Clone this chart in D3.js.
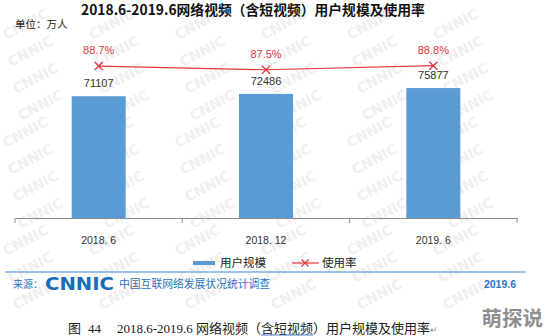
<!DOCTYPE html>
<html><head><meta charset="utf-8">
<script src="https://cdn.jsdelivr.net/npm/d3@7/dist/d3.min.js"></script>
<style>
html,body{margin:0;padding:0;background:#fff;}
svg{display:block;font-family:"Liberation Sans","Noto Sans CJK SC",sans-serif;}
</style></head><body>
<svg id="c" width="548" height="336"></svg>
<script>
const categories = ["2018. 6", "2018. 12", "2019. 6"];
const users = [71107, 72486, 75877];
const rates = [88.7, 87.5, 88.8];
const rateLabels = ["88.7%", "87.5%", "88.8%"];
const legendLabels = ["用户规模", "使用率"];
const titleText = "2018.6-2019.6网络视频（含短视频）用户规模及使用率";
const unitText = "单位：万人";

const svg = d3.select("#c");
const cjk = '"Noto Sans CJK SC","Liberation Sans",sans-serif';

// faint background watermark (kept inside the picture)
const wm = svg.append("g").attr("fill", "#efefef")
  .attr("font-family", "DejaVu Sans").attr("font-weight", "bold").attr("font-size", 14);
for (let r = 0; r < 12; r++) {
  for (let c = 0; c < 7; c++) {
    const px = 6 + c * 86 + (r % 4) * 5, py = 40 + r * 27;
    if (px + 58 > 546 || py > 332) continue;
    wm.append("text").attr("transform", `translate(${px},${py}) rotate(-28)`).text("CNNIC");
  }
}

const x = d3.scaleBand().domain(categories).range([15, 517]).paddingInner(0).paddingOuter(0);
const y = d3.scaleLinear().domain([0, 80000]).range([218, 81]);
const y2 = d3.scaleLinear().domain([80, 90]).range([93, 62]);
const barW = 54;

// title
svg.append("text").attr("x", 253).attr("y", 15).attr("text-anchor", "middle")
  .attr("font-family", cjk).attr("font-weight", "bold").attr("font-size", 13.8).attr("fill", "#111")
  .text(titleText);
svg.append("text").attr("x", 15).attr("y", 28).attr("font-family", cjk)
  .attr("font-size", 10.5).attr("fill", "#222").text(unitText);

// bars
svg.append("g").selectAll("rect").data(users).join("rect")
  .attr("x", (d, i) => x(categories[i]) + x.bandwidth() / 2 - barW / 2)
  .attr("y", d => y(d)).attr("width", barW).attr("height", d => y(0) - y(d))
  .attr("fill", "#5b9bd5");

// axis
const ax = svg.append("g").attr("transform", `translate(0,${y(0)})`)
  .call(d3.axisBottom(x).tickSize(0).tickFormat(""));
ax.select(".domain").attr("stroke", "#8c8c8c");
const tickPos = [15, 182.3, 349.7, 517];
ax.selectAll(".sep").data(tickPos).join("line").attr("class", "sep")
  .attr("x1", d => d).attr("x2", d => d).attr("y1", 0).attr("y2", 5).attr("stroke", "#8c8c8c");
svg.append("g").selectAll("text").data(categories).join("text")
  .attr("x", d => x(d) + x.bandwidth() / 2).attr("y", 244).attr("text-anchor", "middle")
  .attr("font-family", "Liberation Sans").attr("font-size", 10.5).attr("fill", "#333").text(d => d);

// value labels
svg.append("g").selectAll("text").data(users).join("text")
  .attr("x", (d, i) => x(categories[i]) + x.bandwidth() / 2).attr("y", d => y(d) - 9)
  .attr("text-anchor", "middle").attr("font-size", 11).attr("fill", "#333").text(d => d);

// line
const red = "#e0383e";
const cx = (i) => x(categories[i]) + x.bandwidth() / 2;
svg.append("path").datum(rates)
  .attr("d", d3.line().x((d, i) => cx(i)).y(d => y2(d)))
  .attr("fill", "none").attr("stroke", red).attr("stroke-width", 1.2);
const mk = svg.append("g").selectAll("g").data(rates).join("g")
  .attr("transform", (d, i) => `translate(${cx(i)},${y2(d)})`);
mk.append("path").attr("d", "M-4,-4L4,4M-4,4L4,-4").attr("stroke", red).attr("stroke-width", 1.3);
svg.append("g").selectAll("text").data(rateLabels).join("text")
  .attr("x", (d, i) => cx(i)).attr("y", (d, i) => y2(rates[i]) - 12)
  .attr("text-anchor", "middle").attr("font-size", 11).attr("fill", red).text(d => d);

// legend
const lg = svg.append("g");
lg.append("rect").attr("x", 193).attr("y", 261).attr("width", 22).attr("height", 4).attr("fill", "#5b9bd5");
lg.append("text").attr("x", 220).attr("y", 267).attr("font-family", cjk).attr("font-size", 11.5)
  .attr("fill", "#222").text(legendLabels[0]);
lg.append("line").attr("x1", 292).attr("x2", 319).attr("y1", 263).attr("y2", 263).attr("stroke", red).attr("stroke-width", 1.2);
lg.append("path").attr("d", "M301.5,259.5L308.5,266.5M301.5,266.5L308.5,259.5").attr("stroke", red).attr("stroke-width", 1.2);
lg.append("text").attr("x", 322).attr("y", 267).attr("font-family", cjk).attr("font-size", 11.5)
  .attr("fill", "#222").text(legendLabels[1]);

// footer
const blue = "#2874bf";
svg.append("line").attr("x1", 5).attr("x2", 526).attr("y1", 272).attr("y2", 272)
  .attr("stroke", "#7aaee0").attr("stroke-width", 1.5);
svg.append("text").attr("x", 13).attr("y", 288).attr("font-family", cjk).attr("font-size", 10)
  .attr("fill", blue).text("来源：");
svg.append("text").attr("x", 45).attr("y", 290).attr("font-family", "DejaVu Sans")
  .attr("font-weight", "bold").attr("font-size", 18.5).attr("textLength", 69)
  .attr("lengthAdjust", "spacingAndGlyphs").attr("fill", "#1a6cb8").text("CNNIC");
svg.append("text").attr("x", 119).attr("y", 288).attr("font-family", cjk).attr("font-size", 10.8)
  .attr("fill", blue).text("中国互联网络发展状况统计调查");
svg.append("text").attr("x", 516).attr("y", 288).attr("text-anchor", "end").attr("font-weight", "bold")
  .attr("font-size", 10.5).attr("fill", blue).text("2019.6");

// caption
const capFont = '"Liberation Serif","Noto Sans CJK SC",serif';
const cg = svg.append("g").attr("font-family", capFont).attr("font-size", 13).attr("fill", "#222");
cg.append("text").attr("x", 68).attr("y", 333).text("图");
cg.append("text").attr("x", 88).attr("y", 333).text("44");
const cap = cg.append("text").attr("x", 117).attr("y", 333);
cap.append("tspan").text("2018.6-2019.6 网络视频（");
cap.append("tspan").attr("id", "ul").text("含短视频");
cap.append("tspan").text("）用户规模及使用率");
cap.append("tspan").attr("font-size", 9).attr("fill", "#888").text("↵");
try {
  const ul = document.getElementById("ul");
  const start = ul.getStartPositionOfChar(0).x, end = ul.getEndPositionOfChar(3).x;
  svg.append("line").attr("x1", start).attr("x2", end).attr("y1", 335).attr("y2", 335)
    .attr("stroke", "#4a7fd0").attr("stroke-width", 1.2);
} catch (e) {}

// watermark
svg.append("text").attr("x", 543).attr("y", 326).attr("text-anchor", "end").attr("font-family", cjk)
  .attr("font-weight", "bold").attr("font-size", 20.5).attr("fill", "#8f8f8f").text("萌探说");
</script>
</body></html>
